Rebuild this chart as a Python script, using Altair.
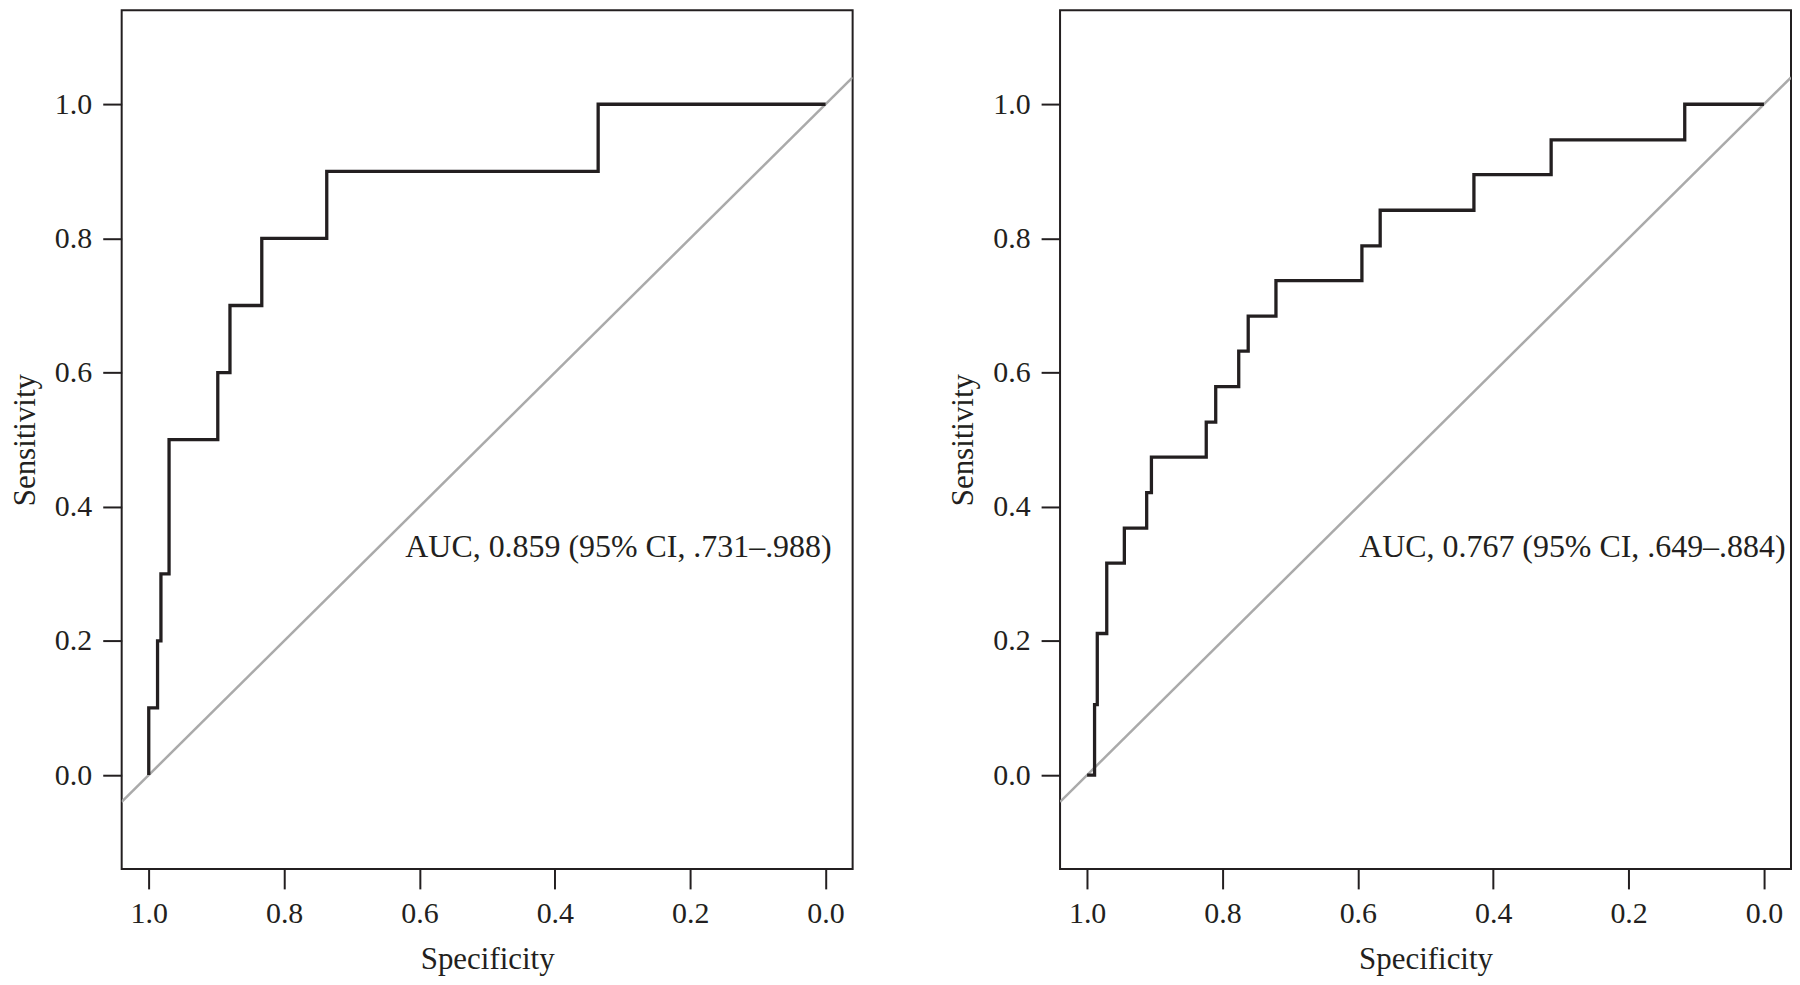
import altair as alt
import pandas as pd

# Left panel ROC vertices (specificity where the jump happens, sensitivity after it)
left_spec = [1.0, 1.0, 0.987, 0.982, 0.970, 0.898, 0.880, 0.833, 0.737, 0.336, 0.0]
left_sens = [0.0, 0.1, 0.2, 0.3, 0.5, 0.6, 0.7, 0.8, 0.9, 1.0, 1.0]
left_label = "AUC, 0.859 (95% CI, .731–.988)"

# Right panel ROC vertices
right_spec = [1.0, 0.989, 0.985, 0.971, 0.945, 0.912, 0.905, 0.824, 0.810, 0.776,
              0.762, 0.721, 0.594, 0.567, 0.4285, 0.3144, 0.117, 0.0]
right_sens = [0.0, 0.105, 0.211, 0.316, 0.368, 0.421, 0.474, 0.526, 0.579, 0.632,
              0.684, 0.737, 0.789, 0.842, 0.895, 0.947, 1.0, 1.0]
right_label = "AUC, 0.767 (95% CI, .649–.884)"

# Chance diagonal (spans the plot extent)
diag_spec = [1.04, -0.04]
diag_sens = [-0.04, 1.04]

tick_values = [0.0, 0.2, 0.4, 0.6, 0.8, 1.0]

INK = "#231f20"
FONT = "Liberation Serif"

W, H = 733, 861

xscale = alt.Scale(domain=[-0.04, 1.04], reverse=True, nice=False, zero=False)
yscale = alt.Scale(domain=[-0.14, 1.14], nice=False, zero=False)

xaxis = alt.Axis(values=tick_values, format=".1f", title="Specificity", grid=False,
                 domain=False, tickSize=20, tickWidth=2, tickColor=INK,
                 labelPadding=10, titlePadding=16, labelFlush=False)
yaxis = alt.Axis(values=tick_values, format=".1f", title="Sensitivity", grid=False,
                 domain=False, tickSize=19, tickWidth=2, tickColor=INK,
                 labelPadding=11, titlePadding=13, labelFlush=False)


def panel(spec, sens, label, label_x):
    roc = pd.DataFrame({"spec": spec, "sens": sens, "i": list(range(len(spec)))})
    diag = pd.DataFrame({"spec": diag_spec, "sens": diag_sens})
    lab = pd.DataFrame({"spec": [label_x], "sens": [0.3256], "text": [label]})

    base_x = alt.X("spec:Q", scale=xscale, axis=xaxis)
    base_y = alt.Y("sens:Q", scale=yscale, axis=yaxis)

    d = alt.Chart(diag).mark_line(color="#aaaaaa", strokeWidth=2.5, clip=True).encode(
        x=base_x, y=base_y)
    r = alt.Chart(roc).mark_line(color=INK, strokeWidth=3.3, interpolate="step-after",
                                 clip=True).encode(
        x=base_x, y=base_y, order="i:Q")
    t = alt.Chart(lab).mark_text(font=FONT, fontSize=32, color=INK, align="center",
                                 baseline="alphabetic").encode(
        x=base_x, y=base_y, text="text:N")
    return alt.layer(d, r, t).properties(width=W, height=H)


left = panel(left_spec, left_sens, left_label, 0.306)
right = panel(right_spec, right_sens, right_label, 0.283)

chart = alt.hconcat(left, right, spacing=93, padding=0).configure_view(
    stroke=INK, strokeWidth=2
).configure_axis(
    labelFont=FONT, labelFontSize=30, labelColor=INK,
    titleFont=FONT, titleFontSize=31, titleFontWeight="normal", titleColor=INK
)

chart.save("out.html", embed_options={"renderer": "svg", "actions": False})
